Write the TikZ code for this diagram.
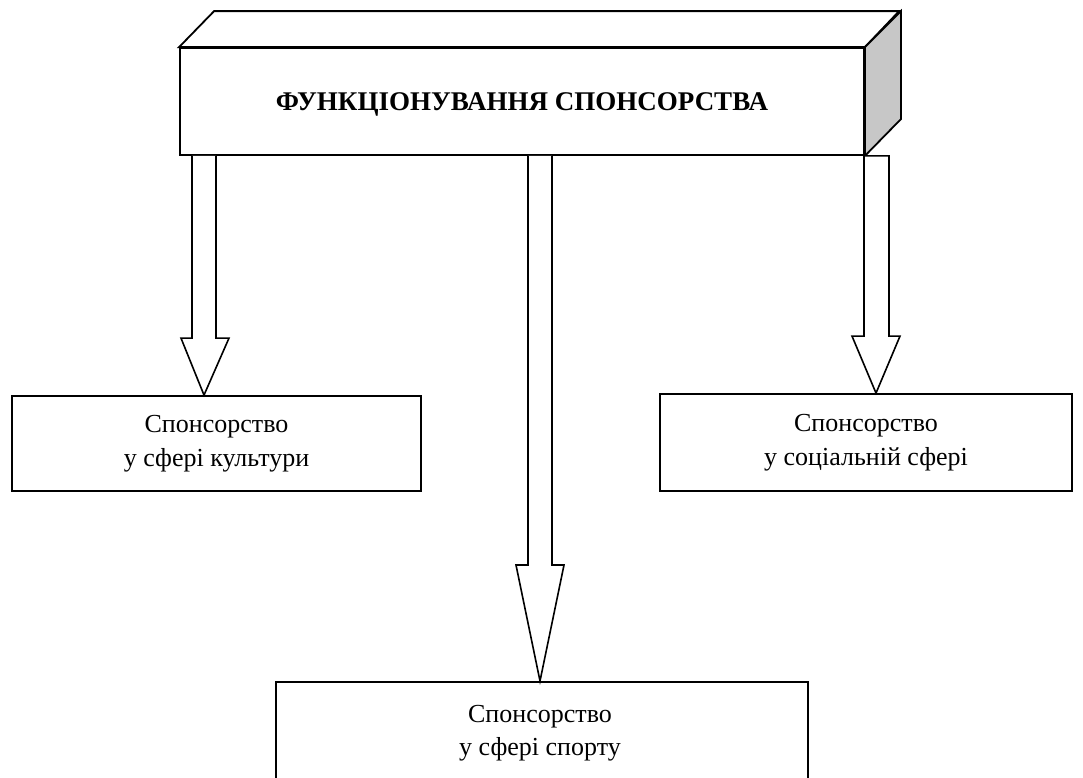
\documentclass[tikz,border=0pt]{standalone}
\usepackage{fontspec}
\setmainfont{Liberation Serif}
\usetikzlibrary{calc}
\begin{document}
\begin{tikzpicture}[x=1pt,y=-1pt,
  box/.style={draw,line width=1.8pt,rectangle,inner sep=0pt,align=center,font=\fontsize{26}{34}\selectfont},
  arr/.style={draw,line width=1.6pt,fill=white,line join=miter}]
\useasboundingbox (0,0) rectangle (1083,777);
\clip (0,0) rectangle (1083,777);
% 3D top block
\node[box,minimum width=684pt,minimum height=107pt] (top) at (522,101.5) {};
\node[font=\fontsize{27}{32}\selectfont\bfseries] (title) at (522,104) {ФУНКЦІОНУВАННЯ СПОНСОРСТВА};
\draw[line width=1.8pt,line join=miter,fill=white] (top.north west) -- ++(35,-36) -- ++(685,0) -- (top.north east) -- cycle;
\draw[line width=1.8pt,line join=miter,fill=black!22] (top.north east) -- ++(36,-36) -- ++(0,108) -- (top.south east) -- cycle;
% boxes
\node[box,minimum width=409pt,minimum height=95pt] (cult) at (216.5,443.5) {Спонсорство\\у сфері культури};
\node[box,minimum width=412pt,minimum height=97pt] (soc) at (866,442.5) {Спонсорство\\у соціальній сфері};
\node[box,minimum width=532pt,minimum height=130pt,anchor=north] (sport) at (542,681) {};
\node[font=\fontsize{26}{33}\selectfont,align=center] (sporttxt) at (540,733) {Спонсорство\\у сфері спорту};
% arrow anchors
\coordinate (t1) at (204,0); \coordinate (t2) at (540,0); \coordinate (t3) at (876,0);
\coordinate (s1) at (t1 |- top.south); \coordinate (e1) at (t1 |- cult.north);
\coordinate (s2) at (t2 |- top.south); \coordinate (e2) at (t2 |- sport.north);
\coordinate (s3) at (t3 |- top.south); \coordinate (e3) at (t3 |- soc.north);
\draw[arr] ($(s1)+(-12,0)$) -- ($(e1)+(-12,-57)$) -- ($(e1)+(-23,-57)$) -- (e1) -- ($(e1)+(25,-57)$) -- ($(e1)+(12,-57)$) -- ($(s1)+(12,0)$);
\draw[arr] ($(s2)+(-12,0)$) -- ($(e2)+(-12,-116)$) -- ($(e2)+(-24,-116)$) -- (e2) -- ($(e2)+(24,-116)$) -- ($(e2)+(12,-116)$) -- ($(s2)+(12,0)$);
\draw[arr] ($(s3)+(-12,0)$) -- ($(e3)+(-12,-57)$) -- ($(e3)+(-24,-57)$) -- (e3) -- ($(e3)+(24,-57)$) -- ($(e3)+(13,-57)$) -- ($(s3)+(13,0)$) -- cycle;
\end{tikzpicture}
\end{document}
